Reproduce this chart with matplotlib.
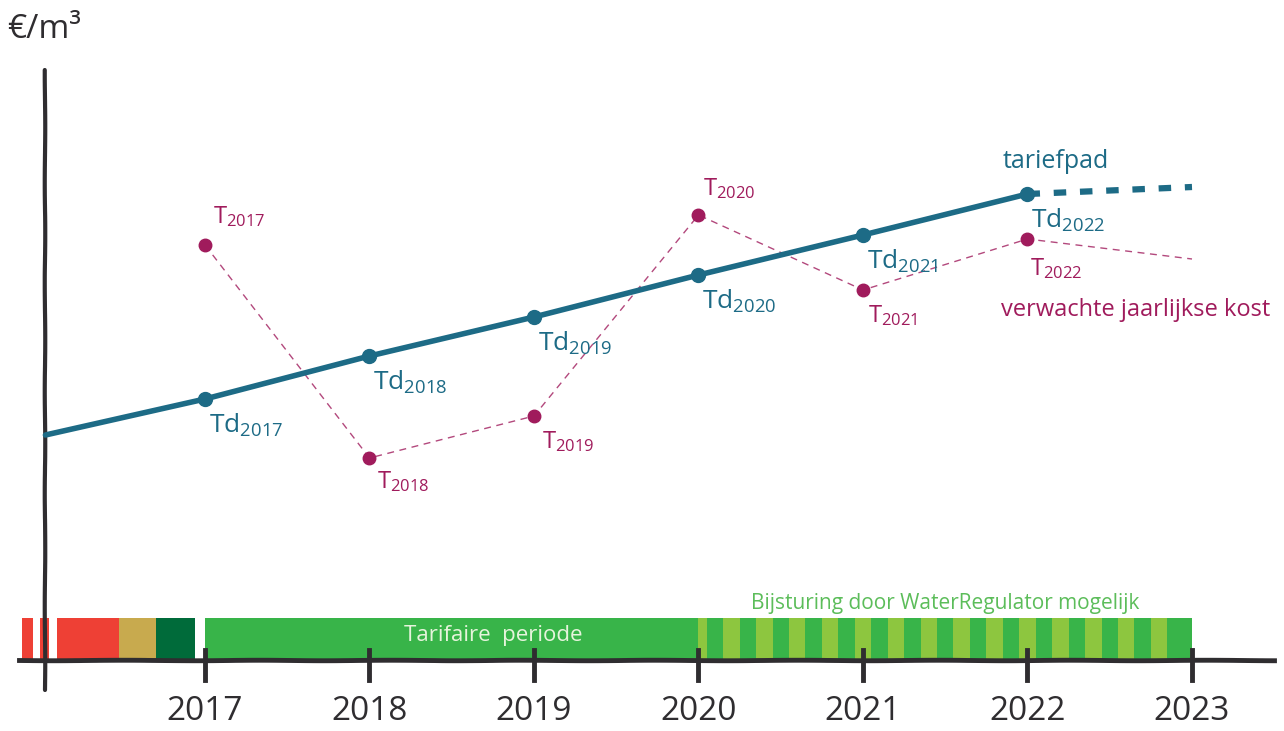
import matplotlib
matplotlib.use("Agg")
import matplotlib.pyplot as plt
from matplotlib.patches import Rectangle
import numpy as np

# ---- data ----
years = [2017, 2018, 2019, 2020, 2021, 2022, 2023]
td_years = [2017, 2018, 2019, 2020, 2021, 2022]
td_values = [2.61, 3.04, 3.43, 3.85, 4.25, 4.66]          # tariefpad Td
td_start = (2016.03, 2.25)                                 # start of tariefpad line
td_future = (2023.0, 4.73)                                 # dotted continuation
t_years = [2017, 2018, 2019, 2020, 2021, 2022]
t_values = [4.15, 2.02, 2.44, 4.45, 3.70, 4.21]            # verwachte jaarlijkse kost T
t_future = (2023.0, 4.01)
tick_labels = ["2017", "2018", "2019", "2020", "2021", "2022", "2023"]
# timeline bar segments: (start, end, colour)
bar_segments = [
    (2015.887, 2015.953, "#ee4035"),
    (2016.0, 2016.05, "#ee4035"),
    (2016.10, 2016.48, "#ee4035"),
    (2016.48, 2016.70, "#c8aa4e"),
    (2016.70, 2016.94, "#006b3a"),
    (2017.0, 2020.0, "#38b449"),
]
stripe_start, stripe_end = 2020.0, 2023.0

TEAL = "#1d6b86"
MAG = "#a01b5c"
AX = "#2f2d30"

fig = plt.figure(figsize=(12.84, 7.31), dpi=100)
ax = fig.add_axes([0, 0, 1, 1])
x0 = 2017 + (0 - 205) / 164.5
x1 = 2017 + (1284 - 205) / 164.5
ax.set_xlim(x0, x1)
ax.set_ylim(-0.71, 6.60)
ax.axis("off")

plt.rcParams['font.family'] = ['Open Sans', 'DejaVu Sans']

# timeline bar
bar_h = 0.42
for s, e, c in bar_segments:
    ax.add_patch(Rectangle((s, 0), e - s, bar_h, color=c, lw=0, zorder=1))
ax.add_patch(Rectangle((stripe_start, 0), stripe_end - stripe_start, bar_h,
                       color="#38b449", lw=0, zorder=1))
k = 0
while True:
    c = stripe_start + 0.2 * k
    a, b = max(c - 0.05, stripe_start), min(c + 0.05, stripe_end)
    if a >= stripe_end - 0.1:
        break
    ax.add_patch(Rectangle((a, 0), b - a, bar_h, color="#8dc63f", lw=0, zorder=1))
    k += 1

ax.text(2018.75, 0.25, "Tarifaire  periode", color="#e6f4dc", fontsize=16,
        ha="center", va="center", zorder=3)
ax.text(2021.5, 0.57, "Bijsturing door WaterRegulator mogelijk", color="#5cbd5a",
        fontsize=15, ha="center", va="center", zorder=3)

# hand-drawn-ish axes
np.random.seed(3)
yl, = ax.plot([2016.03, 2016.03], [-0.30, 5.9], color=AX, lw=3, zorder=4,
              solid_capstyle="round")
yl.set_sketch_params(0.25, 120, 2)
xl, = ax.plot([2015.87, 2023.5], [0.0, 0.0], color=AX, lw=3.5, zorder=4)
xl.set_sketch_params(0.25, 150, 2)
for yr in years:
    tl, = ax.plot([yr, yr], [-0.20, 0.10], color=AX, lw=3.5, zorder=4)
for yr, lab in zip(years, tick_labels):
    ax.text(yr, -0.52, lab, fontsize=24, color=AX, ha="center", va="center")

ax.text(2015.80, 6.30, "€/m³", fontsize=24, color=AX, ha="left", va="center")

# expected cost T (dashed)
ax.plot(t_years + [t_future[0]], t_values + [t_future[1]], color=MAG, lw=1,
        ls=(0, (5, 4)), alpha=0.8, zorder=5)
ax.plot(t_years, t_values, "o", color=MAG, ms=9, zorder=6, ls="none")

# tariefpad Td
ax.plot([td_start[0]] + td_years, [td_start[1]] + td_values, color=TEAL, lw=4,
        solid_capstyle="round", zorder=7)
ax.plot([td_years[-1], td_future[0]], [td_values[-1], td_future[1]], color=TEAL,
        lw=4.5, ls=(0, (2.0, 2.2)), zorder=7)
ax.plot(td_years, td_values, "o", color=TEAL, ms=10, zorder=8, ls="none")

# labels
for yr, v in zip(td_years, td_values):
    ax.annotate(r"$\mathregular{Td_{%d}}$" % yr, (yr, v), xytext=(4, -26),
                textcoords="offset pixels", fontsize=19, color=TEAL,
                ha="left", va="center", zorder=9)
t_offsets = [(8, 28), (8, -24), (8, -26), (5, 26), (5, -26), (3, -30)]
for yr, v, off in zip(t_years, t_values, t_offsets):
    ax.annotate(r"$\mathregular{T_{%d}}$" % yr, (yr, v), xytext=off,
                textcoords="offset pixels", fontsize=17, color=MAG,
                ha="left", va="center", zorder=9)

ax.text(2021.85, 4.99, "tariefpad", fontsize=18, color=TEAL, ha="left", va="center")
ax.text(2021.84, 3.50, "verwachte jaarlijkse kost", fontsize=17, color=MAG,
        ha="left", va="center")

fig.savefig("out.png", dpi=100, facecolor="white")
